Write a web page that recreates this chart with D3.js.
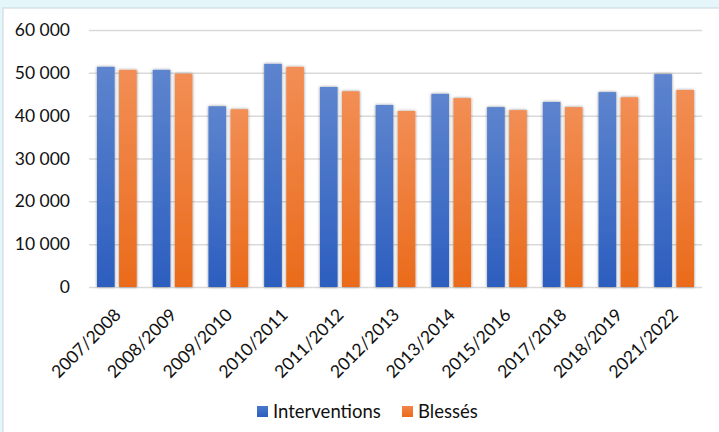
<!DOCTYPE html>
<html><head><meta charset="utf-8">
<script src="https://cdn.jsdelivr.net/npm/d3@7"></script>
<style>
html,body{margin:0;padding:0;background:#e5f6fa;}
svg{display:block;}
</style></head>
<body>
<svg id="c" width="719" height="432"></svg>
<script>
const categories = ["2007/2008","2008/2009","2009/2010","2010/2011","2011/2012","2012/2013","2013/2014","2015/2016","2017/2018","2018/2019","2021/2022"];
const interventions = [51400,50700,42200,52100,46700,42500,45100,42000,43200,45500,49700];
const blesses = [50700,49800,41500,51400,45700,41100,44100,41300,42000,44300,46000];
const seriesNames = ["Interventions","Blessés"];
const yTicks = [0,10000,20000,30000,40000,50000,60000];

const svg = d3.select("#c");
const font = "Lato, 'Open Sans', sans-serif";
const defs = svg.append("defs");
function grad(id, top, bottom){
  const g = defs.append("linearGradient").attr("id",id).attr("x1",0).attr("y1",0).attr("x2",0).attr("y2",1);
  g.append("stop").attr("offset","0%").attr("stop-color",top);
  g.append("stop").attr("offset","100%").attr("stop-color",bottom);
}
grad("gBlue","#5d84ce","#2c5ebf");
grad("gOrange","#f28e55","#ea6b1b");
grad("lBlue","#4a78cc","#2c5ebf");
grad("lOrange","#f2844a","#ea6b1b");
const f = defs.append("filter").attr("id","sh").attr("x","-30%").attr("y","-10%").attr("width","160%").attr("height","120%");
f.append("feGaussianBlur").attr("in","SourceAlpha").attr("stdDeviation",1.6).attr("result","b");
f.append("feFlood").attr("flood-color","#000").attr("flood-opacity",0.45);
f.append("feComposite").attr("in2","b").attr("operator","in").attr("result","s");
const m = f.append("feMerge"); m.append("feMergeNode").attr("in","s"); m.append("feMergeNode").attr("in","SourceGraphic");

// panel
svg.append("rect").attr("x",3).attr("y",8).attr("width",730).attr("height",440)
  .attr("fill","#fff").attr("stroke","#cfd9de").attr("stroke-width",1.2);

const x0 = 89, x1 = 702, yTop = 30, yBot = 287;
const x = d3.scaleBand().domain(categories).range([x0,x1]).paddingInner(0).paddingOuter(0);
const y = d3.scaleLinear().domain([0,60000]).range([yBot,yTop]);
const xs = d3.scaleBand().domain(seriesNames).range([8, x.bandwidth()-8]).paddingInner(0.2);

// gridlines
const yAxis = d3.axisLeft(y).tickValues(yTicks).tickSize(-(x1-x0)).tickFormat(d => d3.format(",")(d).replace(/,/g," "));
const ga = svg.append("g").attr("transform",`translate(${x0},0)`).call(yAxis);
ga.select(".domain").remove();
ga.selectAll(".tick line").attr("stroke","#d9d9d9").attr("stroke-width",1.5);
ga.selectAll(".tick text").attr("x",-19).attr("fill","#111").style("font-family",font).style("font-size","17.5px");

const data = categories.map((c,i)=>({c, v:[interventions[i], blesses[i]]}));
const fills = ["url(#gBlue)","url(#gOrange)"];
const g = svg.append("g");
data.forEach(d=>{
  d.v.forEach((v,j)=>{
    g.append("rect")
      .attr("x", x(d.c)+xs(seriesNames[j]))
      .attr("y", y(v))
      .attr("width", xs.bandwidth())
      .attr("height", y(0)-y(v))
      .attr("fill", fills[j])
      .attr("filter","url(#sh)");
  });
});

// x labels
const xl = svg.append("g");
categories.forEach(c=>{
  xl.append("text")
    .attr("transform",`translate(${x(c)+x.bandwidth()/2+5},${yBot+29}) rotate(-45)`)
    .attr("text-anchor","end")
    .attr("fill","#111")
    .style("font-family",font).style("font-size","17.5px")
    .text(c);
});

// legend
const leg = [{n:"Interventions", f:"url(#lBlue)", sx:257, tx:273},{n:"Blessés", f:"url(#lOrange)", sx:402, tx:418}];
leg.forEach(l=>{
  svg.append("rect").attr("x",l.sx).attr("y",406).attr("width",11).attr("height",11).attr("fill",l.f);
  svg.append("text").attr("x",l.tx).attr("y",417.5).attr("fill","#111")
    .style("font-family",font).style("font-size","18.5px").text(l.n);
});
</script>
</body></html>
